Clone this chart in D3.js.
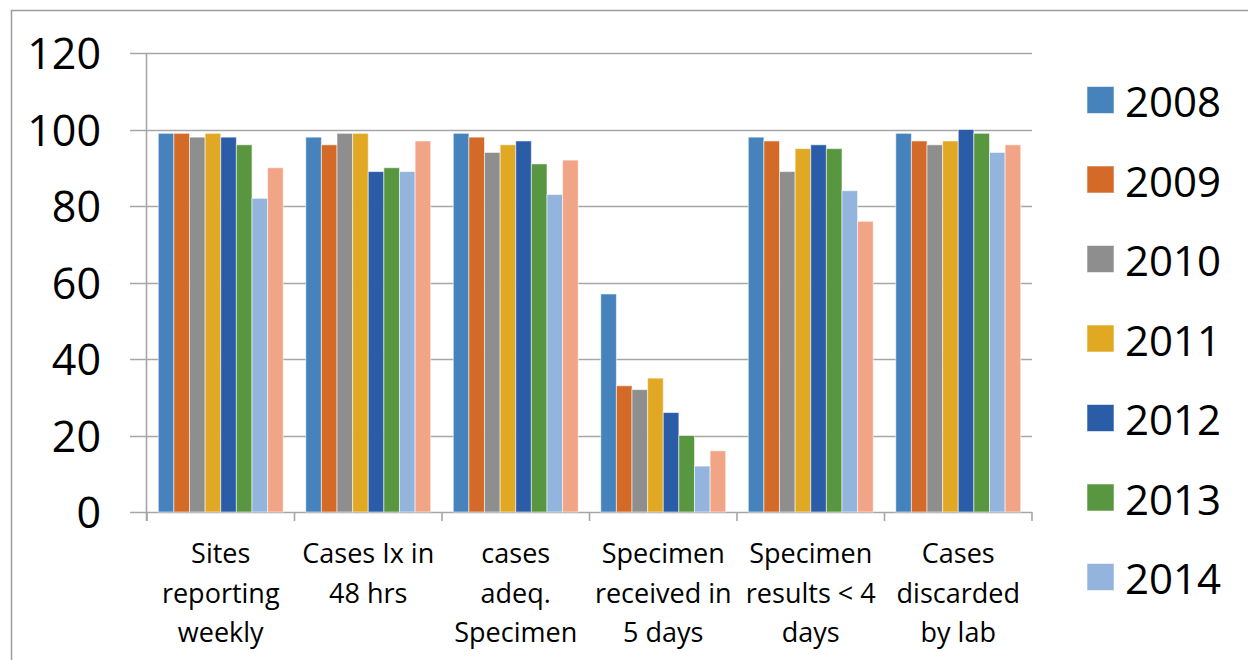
<!DOCTYPE html>
<html>
<head>
<meta charset="utf-8">
<script src="https://cdn.jsdelivr.net/npm/d3@7"></script>
<style>
  html, body { margin: 0; padding: 0; background: #fff; }
  svg { display: block; font-family: "Open Sans", "Noto Sans", sans-serif; }
</style>
</head>
<body>
<svg id="chart" width="1248" height="660"></svg>
<script>
const categories = [
  ["Sites", "reporting", "weekly"],
  ["Cases Ix in", "48 hrs"],
  ["cases", "adeq.", "Specimen"],
  ["Specimen", "received in", "5 days"],
  ["Specimen", "results < 4", "days"],
  ["Cases", "discarded", "by lab"]
];
const years = ["2008", "2009", "2010", "2011", "2012", "2013", "2014", "2015"];
const values2008 = [99, 98, 99, 57, 98, 99];
const values2009 = [99, 96, 98, 33, 97, 97];
const values2010 = [98, 99, 94, 32, 89, 96];
const values2011 = [99, 99, 96, 35, 95, 97];
const values2012 = [98, 89, 97, 26, 96, 100];
const values2013 = [96, 90, 91, 20, 95, 99];
const values2014 = [82, 89, 83, 12, 84, 94];
const values2015 = [90, 97, 92, 16, 76, 96];
const seriesValues = [values2008, values2009, values2010, values2011, values2012, values2013, values2014, values2015];
const colors = ["#4683BD", "#D36A28", "#8E8E8E", "#E0A823", "#2A5CA8", "#58963F", "#93B5DD", "#F1A586"];
const yTicks = [0, 20, 40, 60, 80, 100, 120];
const legendYears = years.slice(0, 7);

const svg = d3.select("#chart");

// outer frame
svg.append("rect").attr("x", 11.5).attr("y", 10.5).attr("width", 1400).attr("height", 800)
  .attr("fill", "none").attr("stroke", "#9c9c9c").attr("stroke-width", 1.5);

const plot = { left: 147, right: 1032, top: 53, bottom: 512 };
const y = d3.scaleLinear().domain([0, 120]).range([plot.bottom, plot.top]);
const catIdx = d3.range(categories.length);
const x0 = d3.scaleBand().domain(catIdx).range([plot.left, plot.right])
  .paddingInner(0.153).paddingOuter(0.0765);
const x1 = d3.scaleBand().domain(d3.range(years.length)).range([0, x0.bandwidth()]);

// gridlines
svg.append("g").selectAll("line").data(yTicks).join("line")
  .attr("x1", 130).attr("x2", plot.right)
  .attr("y1", d => Math.round(y(d)) + 0.5).attr("y2", d => Math.round(y(d)) + 0.5)
  .attr("stroke", "#A6A6A6").attr("stroke-width", 1.6);

// y axis line
svg.append("line").attr("x1", plot.left - 0.5).attr("x2", plot.left - 0.5)
  .attr("y1", plot.top).attr("y2", plot.bottom + 9)
  .attr("stroke", "#A6A6A6").attr("stroke-width", 1.6);

// category tick marks
const step = x0.step();
svg.append("g").selectAll("line").data(d3.range(categories.length + 1)).join("line")
  .attr("x1", d => plot.left + d * step).attr("x2", d => plot.left + d * step)
  .attr("y1", plot.bottom).attr("y2", plot.bottom + 9)
  .attr("stroke", "#A6A6A6").attr("stroke-width", 1.6);

// y tick labels
svg.append("g").selectAll("text").data(yTicks).join("text")
  .attr("x", 101).attr("y", d => y(d) + 16)
  .attr("text-anchor", "end").attr("font-size", 43).attr("fill", "#000")
  .text(d => d);

// bars
const groups = svg.append("g").selectAll("g").data(seriesValues).join("g")
  .attr("fill", (d, i) => colors[i]);
groups.selectAll("rect").data((vals, si) => vals.map((v, ci) => ({ v, ci, si }))).join("rect")
  .attr("x", d => x0(d.ci) + x1(d.si))
  .attr("width", x1.bandwidth())
  .attr("y", d => y(d.v))
  .attr("height", d => y(0) - y(d.v))
  .attr("stroke", "rgba(255,255,255,0.55)").attr("stroke-width", 1);

// category labels
const catG = svg.append("g").selectAll("text").data(categories).join("text")
  .attr("text-anchor", "middle").attr("font-size", 27).attr("fill", "#000");
catG.each(function(lines, i) {
  const cx = x0(i) + x0.bandwidth() / 2;
  d3.select(this).selectAll("tspan").data(lines).join("tspan")
    .attr("x", cx).attr("y", (d, j) => 563 + j * 39.5).text(d => d);
});

// legend
const leg = svg.append("g").selectAll("g").data(legendYears).join("g")
  .attr("transform", (d, i) => `translate(1087, ${100 + i * 79.5})`);
leg.append("rect").attr("x", 0).attr("y", -13.5).attr("width", 27).attr("height", 27)
  .attr("fill", (d, i) => colors[i]).attr("stroke", "rgba(255,255,255,0.55)").attr("stroke-width", 1);
leg.append("text").attr("x", 38).attr("y", 17).attr("font-size", 42).attr("fill", "#000")
  .text(d => d);
</script>
</body>
</html>
